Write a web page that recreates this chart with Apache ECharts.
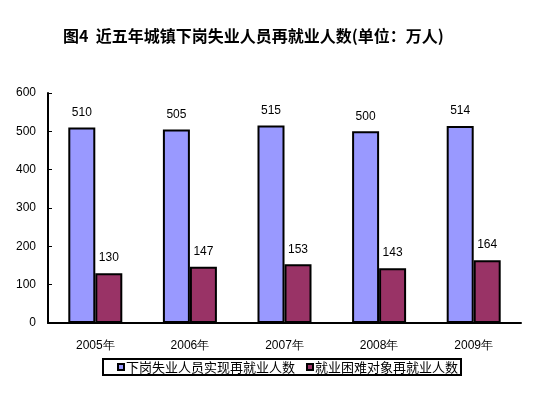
<!DOCTYPE html>
<html><head><meta charset="utf-8">
<script src="https://cdn.jsdelivr.net/npm/echarts@6/dist/echarts.min.js"></script>
<style>html,body{margin:0;padding:0;background:#fff}#c{width:550px;height:393px}</style>
</head><body><div id="c"></div>
<script>
const categories = ['2005年','2006年','2007年','2008年','2009年'];
const seriesNames = ['下岗失业人员实现再就业人数','就业困难对象再就业人数'];
const laidOffReemployed = [510, 505, 515, 500, 514];
const hardshipReemployed = [130, 147, 153, 143, 164];
const yTicks = {min: 0, max: 600, interval: 100};

const chart = echarts.init(document.getElementById('c'));
const labelStyle = {show: true, position: 'top', distance: 9, color: '#000', fontSize: 12, fontFamily: 'Liberation Sans, Arial, sans-serif'};
chart.setOption({
  animation: false,
  backgroundColor: '#fff',
  title: {
    text: '图4  近五年城镇下岗失业人员再就业人数(单位：万人)',
    left: 58, top: 23,
    textStyle: {fontSize: 16, fontWeight: 'bold', color: '#000', fontFamily: 'Noto Sans CJK SC, sans-serif'}
  },
  grid: {left: 48, right: 29, top: 93, bottom: 70},
  legend: {
    top: 359, left: 103,
    itemWidth: 6, itemHeight: 6, itemGap: 11,
    icon: 'rect',
    borderColor: '#000', borderWidth: 2, padding: [1, 3, 1, 14],
    textStyle: {fontSize: 13, lineHeight: 14, color: '#000', fontFamily: 'Noto Sans CJK SC, sans-serif', padding: [0,0,0,-3]},
    data: seriesNames
  },
  xAxis: {
    type: 'category', data: categories,
    axisLine: {lineStyle: {color: '#000', width: 2}},
    axisTick: {inside: true, length: 4, lineStyle: {color: '#000'}},
    axisLabel: {color: '#000', fontSize: 12, margin: 17, fontFamily: 'Liberation Sans, Arial, sans-serif'}
  },
  yAxis: {
    type: 'value', min: yTicks.min, max: yTicks.max, interval: yTicks.interval,
    axisLine: {show: true, lineStyle: {color: '#000', width: 2}},
    axisTick: {show: true, inside: true, length: 4, lineStyle: {color: '#000'}},
    splitLine: {show: false},
    axisLabel: {color: '#000', fontSize: 12, margin: 12, fontFamily: 'Liberation Sans, Arial, sans-serif'}
  },
  series: [
    {name: seriesNames[0], type: 'bar', data: laidOffReemployed, barWidth: 27, barGap: '0%',
     itemStyle: {color: '#9999FF', borderColor: '#000', borderWidth: 2}, label: labelStyle},
    {name: seriesNames[1], type: 'bar', data: hardshipReemployed, barWidth: 27, barGap: '0%',
     itemStyle: {color: '#993366', borderColor: '#000', borderWidth: 2}, label: labelStyle}
  ]
});
</script></body></html>
